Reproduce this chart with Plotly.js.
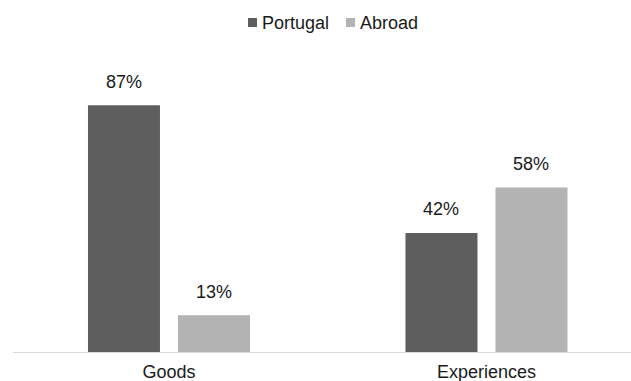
<!DOCTYPE html>
<html>
<head>
<meta charset="utf-8">
<script src="https://cdn.plot.ly/plotly-3.0.1.min.js"></script>
<style>html,body{margin:0;padding:0;background:#fff;}#chart{width:631px;height:381px;}</style>
</head>
<body>
<div id="chart"></div>
<script>
const categories = ['Goods', 'Experiences'];
const seriesNames = ['Portugal', 'Abroad'];
const portugal = [87, 42];
const abroad = [13, 58];
const colors = ['#5e5e5e', '#b3b3b3'];

const W = 631, H = 381;
const M = {l: 13, r: 0, t: 60, b: 29};
const font = {family: 'Liberation Sans, Arial, sans-serif', size: 18, color: '#1a1a1a'};
const values = [portugal, abroad];
const traces = values.map((v, i) => ({
  type: 'bar', x: categories, y: v, name: seriesNames[i],
  marker: {color: colors[i]}, hoverinfo: 'none', showlegend: false
}));

const annotations = [];
values.forEach((v, i) => {
  v.forEach((val, j) => {
    annotations.push({
      x: categories[j], y: val, xref: 'x', yref: 'y',
      text: val + '%', showarrow: false, yanchor: 'bottom',
      xshift: (i === 0 ? -45 : 45), yshift: 11.5, font: font
    });
  });
});

// custom legend (square + name), positioned in pixels converted to paper coords
const pw = W - M.l - M.r, ph = H - M.t - M.b;
const px = x => (x - M.l) / pw;
const py = y => (H - M.b - y) / ph;
const legendSquares = [248, 346];
const shapes = [];
seriesNames.forEach((name, i) => {
  const x0 = legendSquares[i];
  shapes.push({type: 'rect', xref: 'paper', yref: 'paper',
    x0: px(x0), x1: px(x0 + 9), y0: py(27), y1: py(18),
    fillcolor: colors[i], line: {width: 0}});
  annotations.push({xref: 'paper', yref: 'paper', x: px(x0 + 12), y: py(22.5),
    xanchor: 'left', yanchor: 'middle', text: name, showarrow: false, font: font});
});

const layout = {
  width: W, height: H,
  margin: M,
  paper_bgcolor: '#fff', plot_bgcolor: '#fff',
  font: font,
  barmode: 'group', bargap: 0.433, bargroupgap: 0.2,
  showlegend: false,
  xaxis: {range: [-0.4913, 1.4552], showline: true, linecolor: '#d9d9d9', linewidth: 1, ticks: 'outside', ticklen: 3, tickcolor: 'rgba(0,0,0,0)', tickfont: font, fixedrange: true},
  yaxis: {range: [0, 103], showgrid: false, zeroline: false, showticklabels: false, fixedrange: true},
  shapes: shapes,
  annotations: annotations
};
Plotly.newPlot('chart', traces, layout, {displayModeBar: false, staticPlot: true});
</script>
</body>
</html>
